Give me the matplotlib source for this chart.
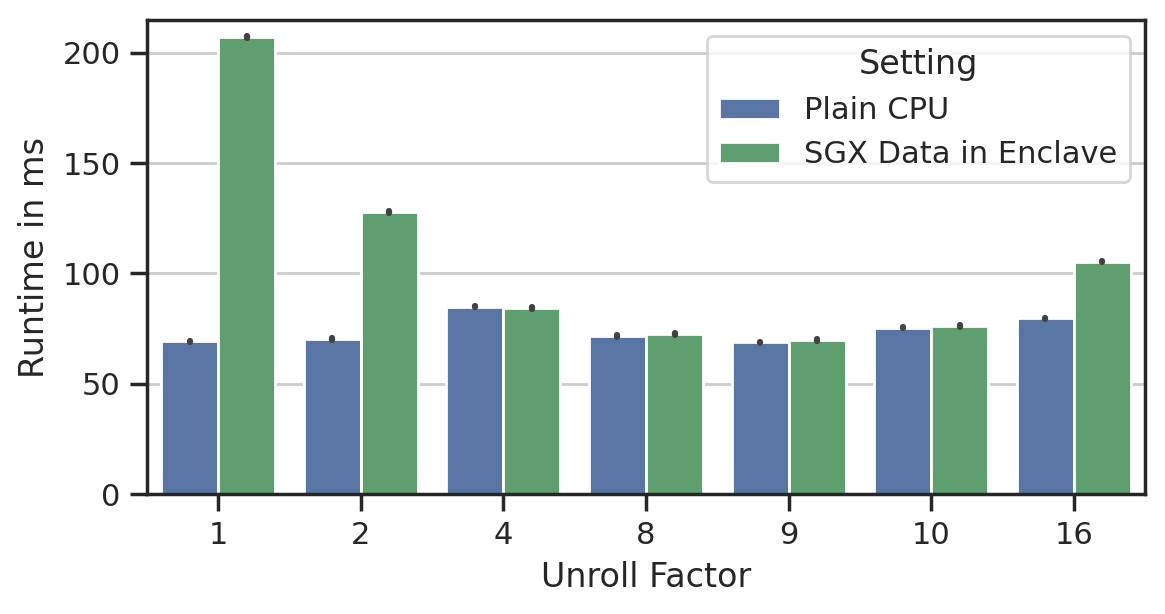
import numpy as np
import matplotlib
matplotlib.use("Agg")
import matplotlib.pyplot as plt
import seaborn as sns

sns.set_theme(context="notebook", style="ticks")
plt.rcParams['font.family'] = ['DejaVu Sans']

# data
unroll = ["1", "2", "4", "8", "9", "10", "16"]
settings = ["Plain CPU", "SGX Data in Enclave"]
plain_cpu = [69.3, 70.2, 85.0, 71.7, 68.8, 75.5, 79.7]
sgx_enclave = [207.1, 127.8, 84.3, 72.6, 69.9, 76.2, 105.4]
plain_err = [0.3, 0.4, 0.3, 0.3, 0.3, 0.3, 0.3]
sgx_err = [0.3, 0.4, 0.3, 0.3, 0.4, 0.3, 0.3]

colors = ["#5975a4", "#5f9e6e"]

fig, ax = plt.subplots(figsize=(5.825, 3.07), dpi=200)
fig.subplots_adjust(left=0.126, right=0.983, top=0.967, bottom=0.195)

x = np.arange(len(unroll))
width = 0.4
series = [(plain_cpu, plain_err), (sgx_enclave, sgx_err)]
for i, (vals, errs) in enumerate(series):
    pos = x + (i - 0.5) * width
    ax.bar(pos, vals, width=width, color=colors[i], edgecolor="white",
           linewidth=1, label=settings[i], zorder=2)
    for p, v, e in zip(pos, vals, errs):
        ax.plot([p, p], [v - e, v + e], color=".26", linewidth=2.25,
                solid_capstyle="round", zorder=3)

ax.set_xticks(x)
ax.set_xticklabels(unroll)
ax.set_xlim(-0.5, len(unroll) - 0.5)
ax.set_ylim(0, 214.7)
ax.set_yticks([0, 50, 100, 150, 200])
ax.yaxis.grid(True, color=".8", linewidth=1)
ax.set_axisbelow(True)

ax.set_xlabel("Unroll Factor")
ax.set_ylabel("Runtime in ms")

ax.legend(title="Setting", loc="upper right")

fig.savefig("out.png", dpi=200)
